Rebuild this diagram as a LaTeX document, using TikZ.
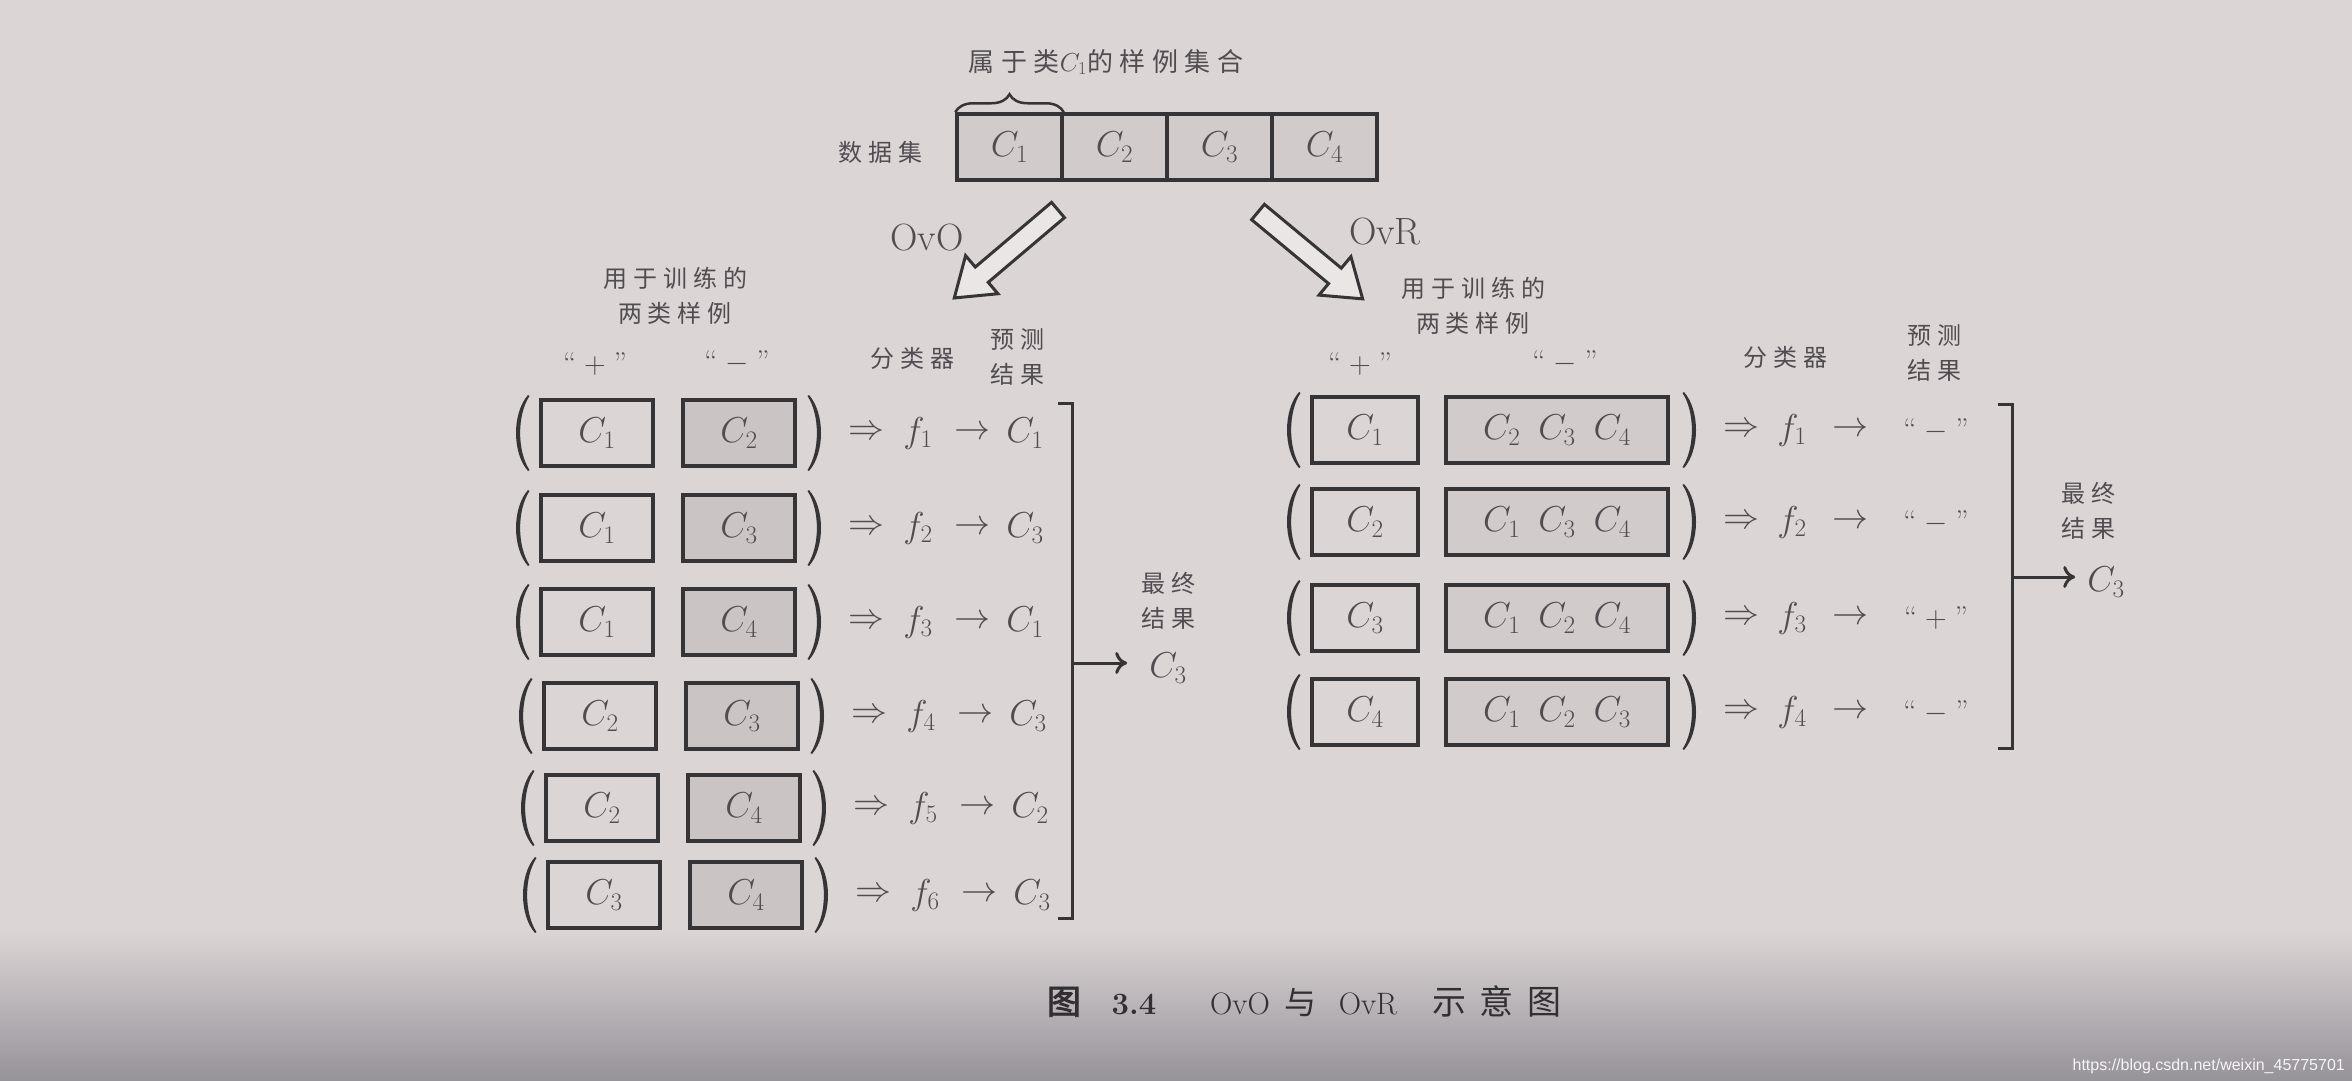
\RequirePackage{fix-cm}
\documentclass[tikz,border=0pt]{standalone}
\usepackage{fontspec}
\usetikzlibrary{decorations.pathreplacing,arrows.meta,calc}
\newfontfamily\cjk[LetterSpace=25]{Noto Sans CJK SC}
\newfontfamily\cjkw[LetterSpace=40]{Noto Sans CJK SC}
\newfontfamily\cjkc[LetterSpace=12]{Noto Sans CJK SC}
\newfontfamily\cjkb[FakeBold=2.5]{Noto Sans CJK SC}
\newfontfamily\wmfont{Liberation Sans}
\definecolor{paper}{RGB}{220,213,214}
\definecolor{paperlow}{RGB}{150,147,153}
\definecolor{ink}{RGB}{55,52,55}
\definecolor{txt}{RGB}{80,76,80}
\definecolor{captxt}{RGB}{50,47,50}
\definecolor{boxgray}{RGB}{203,196,197}
\definecolor{boxlight}{RGB}{209,203,204}
\tikzset{
  lpar/.pic={\fill[ink] (6,-38) .. controls (-10,-20) and (-10,20) .. (6,38) -- (7.5,37) .. controls (-5,18) and (-5,-18) .. (7.5,-37) -- cycle;},
  rpar/.pic={\fill[ink] (-6,-38) .. controls (10,-20) and (10,20) .. (-6,38) -- (-7.5,37) .. controls (5,18) and (5,-18) .. (-7.5,-37) -- cycle;},
  mlbl/.style={font=\fontsize{36}{40}\selectfont, text=txt, inner sep=0pt},
  qlbl/.style={font=\fontsize{30}{34}\selectfont, text=txt, inner sep=0pt},
  clbl/.style={font=\cjk\fontsize{24}{35}\selectfont, text=txt, inner sep=0pt, align=center},
  cbox/.style={draw=ink, line width=3.5pt, minimum height=66pt, inner sep=0pt, font=\fontsize{36}{40}\selectfont, text=txt},
  hollow/.style={draw=ink, fill=paper!60!white, line width=3pt, line join=miter},
  brk/.style={draw=ink, line width=3pt},
  resarrow/.style={draw=ink, line width=3pt, -{To[length=12pt,width=22pt]}},
  caplbl/.style={anchor=base, text=captxt, inner sep=0pt},
}
\begin{document}
\begin{tikzpicture}[x=1pt,y=-1pt]
\fill[paper] (0,0) rectangle (2352,1080);
\shade[top color=paper, bottom color=paperlow] (0,930) rectangle (2352,1080);
\useasboundingbox (0,0) rectangle (2352,1080);

% ---------- data set ----------
\node[clbl, font=\cjk\fontsize{26}{35}\selectfont] (lblTop) at (1106,62) {属于类$C_1$的样例集合};
\node[clbl] (lblData) at (880,152) {数据集};
\foreach \i in {1,...,4}
  \node[cbox, minimum width=105pt, fill=boxlight] (d\i) at ({1009.5+105*(\i-1)},147) {$C_{\i}$};
\draw[decorate, decoration={brace, amplitude=18pt}, draw=ink, line width=2.5pt]
  (d1.north west) -- (d1.north east);

% ---------- hollow arrows ----------
\begin{scope}[shift={(1058,210)}, rotate=220.3]
  \draw[hollow] (0,-10) -- (100,-10) -- (100,-25) -- (136,0) -- (100,25) -- (100,10) -- (0,10) -- cycle;
\end{scope}
\begin{scope}[shift={(1258,212)}, rotate=-39.7]
  \draw[hollow] (0,-10) -- (100,-10) -- (100,-25) -- (136,0) -- (100,25) -- (100,10) -- (0,10) -- cycle;
\end{scope}
\node[mlbl, font=\fontsize{38}{40}\selectfont] (ovo) at (927,238) {OvO};
\node[mlbl, font=\fontsize{38}{40}\selectfont] (ovr) at (1385,232) {OvR};

% ---------- OvO block ----------
\node[clbl] (oT) at (675,296) {用于训练的\\两类样例};
\node[qlbl] (oQp) at (595,364) {``\hspace{8pt}$+$\hspace{8pt}''};
\node[qlbl] (oQm) at (737,362) {``\hspace{8pt}$-$\hspace{8pt}''};
\node[clbl] (oC) at (912,358) {分类器};
\node[clbl] (oPr) at (1017,357) {预测\\结果};

\foreach \a/\b/\f/\r/\y/\dx [count=\i] in {1/2/1/1/433/0, 1/3/2/3/528/0, 1/4/3/1/622/0, 2/3/4/3/716/3, 2/4/5/2/808/5, 3/4/6/3/895/7}{
  \pic at (522+\dx,\y) {lpar};
  \node[cbox, minimum width=112pt] (oL\i) at (597+\dx,\y) {$C_{\a}$};
  \node[cbox, minimum width=112pt, fill=boxgray] (oR\i) at (739+\dx,\y) {$C_{\b}$};
  \pic at (815+\dx,\y) {rpar};
  \node[mlbl] (oI\i) at (866+\dx,\y) {$\Rightarrow$};
  \node[mlbl] (oF\i) at (918+\dx,\y) {$f_{\f}$};
  \node[mlbl] (oA\i) at (972+\dx,\y) {$\rightarrow$};
  \node[mlbl] (oP\i) at (1025+\dx,\y) {$C_{\r}$};
}
\coordinate (obt) at (1058,403);
\coordinate (obb) at (1058,918);
\draw[brk] (obt) -- (1072,403) -- (1072,918) -- (obb);
\coordinate (oarr) at (1072,663);
\node[clbl] (ofin) at (1168,601) {最终\\结果};
\node[mlbl] (ores) at (1168,668) {$C_3$};
\draw[resarrow] (oarr) -- ($(oarr -| ores.west)+(-22,0)$);

% ---------- OvR block ----------
\node[clbl] (rT) at (1473,306) {用于训练的\\两类样例};
\node[qlbl] (rQp) at (1360,364) {``\hspace{8pt}$+$\hspace{8pt}''};
\node[qlbl] (rQm) at (1565,362) {``\hspace{8pt}$-$\hspace{8pt}''};
\node[clbl] (rC) at (1785,357) {分类器};
\node[clbl] (rPr) at (1934,353) {预测\\结果};

\foreach \a/\b/\f/\r/\y [count=\i] in {1/{C_2\enspace C_3\enspace C_4}/1/-/430, 2/{C_1\enspace C_3\enspace C_4}/2/-/522, 3/{C_1\enspace C_2\enspace C_4}/3/+/618, 4/{C_1\enspace C_2\enspace C_3}/4/-/712}{
  \pic at (1293,\y) {lpar};
  \node[cbox, minimum width=106pt] (rL\i) at (1365,\y) {$C_{\a}$};
  \node[cbox, minimum width=222pt, fill=boxlight] (rR\i) at (1557,\y) {$\b$};
  \pic at (1690,\y) {rpar};
  \node[mlbl] (rI\i) at (1741,\y) {$\Rightarrow$};
  \node[mlbl] (rF\i) at (1792,\y) {$f_{\f}$};
  \node[mlbl] (rA\i) at (1850,\y) {$\rightarrow$};
  \node[qlbl] (rP\i) at (1936,\y) {``\hspace{8pt}$\r$\hspace{8pt}''};
}
\coordinate (rbt) at (1998,404);
\coordinate (rbb) at (1998,748);
\draw[brk] (rbt) -- (2012,404) -- (2012,748) -- (rbb);
\coordinate (rarr) at (2012,577);
\node[clbl] (rfin) at (2088,511) {最终\\结果};
\node[mlbl] (rres) at (2106,582) {$C_3$};
\draw[resarrow] (rarr) -- ($(rarr -| rres.west)+(-12,0)$);

% ---------- caption ----------
\node[caplbl, font=\cjkb\fontsize{34}{36}\selectfont] (cap1) at (1064,1014) {图};
\node[caplbl, font=\bfseries\fontsize{31}{36}\selectfont] (cap2) at (1134,1014) {3.4};
\node[caplbl, font=\fontsize{31}{36}\selectfont] (cap3) at (1240,1014) {OvO};
\node[caplbl, font=\cjkc\fontsize{32}{36}\selectfont] (cap4) at (1300,1014) {与};
\node[caplbl, font=\fontsize{31}{36}\selectfont] (cap5) at (1368,1014) {OvR};
\node[caplbl, font=\cjkw\fontsize{34}{36}\selectfont] (cap6) at (1497,1014) {示意图};

% ---------- watermark ----------
\node[anchor=east, inner sep=0pt, text=white!92!gray, font=\wmfont\fontsize{16}{18}\selectfont] (wm) at (2345,1066) {https://blog.csdn.net/weixin\_45775701};
\end{tikzpicture}
\end{document}
